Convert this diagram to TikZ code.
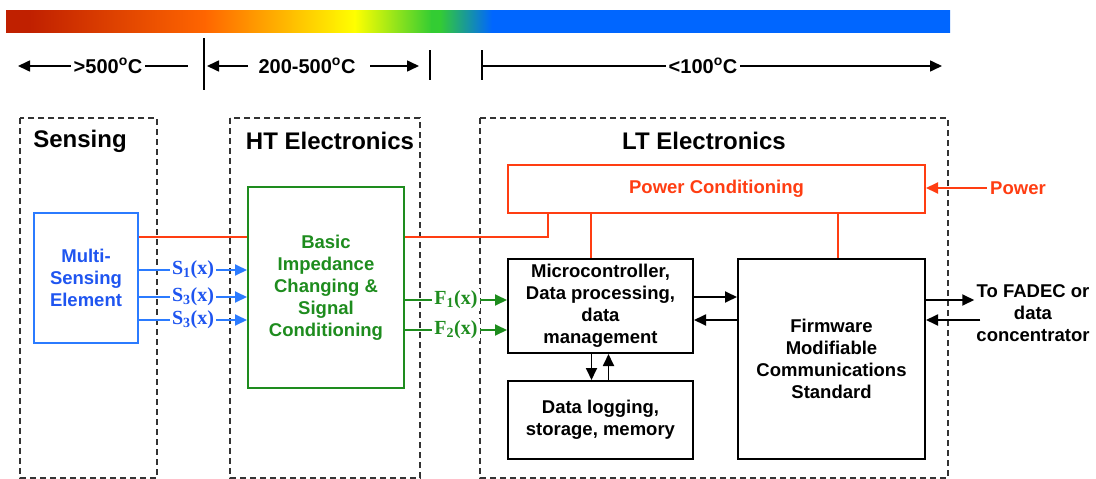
\documentclass[tikz,border=0pt]{standalone}
\usepackage{fontspec}
\setmainfont{Liberation Sans}
\newfontfamily\sigserif{Liberation Serif}
\usetikzlibrary{arrows.meta}

\definecolor{barred}{HTML}{C02000}
\definecolor{barorange}{HTML}{FF6600}
\definecolor{baryellow}{HTML}{FFFF00}
\definecolor{bargreen}{HTML}{33CC33}
\definecolor{barblue}{HTML}{0066FF}
\definecolor{pwred}{HTML}{FF3D12}
\definecolor{sensblue}{HTML}{2B7BFF}
\definecolor{senstext}{HTML}{1F55F0}
\definecolor{htgreen}{HTML}{1E8C1E}

\newcommand\boxfont{\fontsize{18.5}{22}\selectfont\bfseries}
\newcommand\titlefont{\fontsize{24}{28}\selectfont\bfseries}
\newcommand\tempfont{\fontsize{20}{22}\selectfont\bfseries}
\newcommand\sigfont{\fontsize{20}{22}\selectfont\sigserif\bfseries}

\begin{document}
\begin{tikzpicture}[x=1pt,y=-1pt,
  zone/.style={draw=black!80, dash pattern=on 6pt off 4pt, line width=1.3pt},
  blk/.style={draw, line width=2pt, align=center, font=\boxfont, inner sep=0pt},
  pwrline/.style={draw=pwred, line width=2pt},
  arr/.style={-{Triangle[length=12pt,width=11pt]}},
  lbl/.style={fill=white, inner sep=2pt, font=\sigfont},
  temp/.style={font=\tempfont, inner sep=2pt}]
\useasboundingbox (0,0) rectangle (1096,479);

% temperature bar
\begin{scope}
\clip (6,10) rectangle (950,32);
\foreach \xa/\xb/\ca/\cb in {0/30/barred/barred, 29.5/206/barred/barorange,
  205.5/355/barorange/baryellow, 354.5/432/baryellow/bargreen,
  431.5/440/bargreen/bargreen, 439.5/492/bargreen/barblue}
  \shade[left color=\ca, right color=\cb] (\xa,5) rectangle (\xb,37);
\fill[barblue] (491.5,5) rectangle (960,37);
\end{scope}

% temperature ranges
\begin{scope}[line width=1.6pt]
\coordinate (hotL) at (18,66);
\coordinate (hotR) at (188,66);
\coordinate (midL) at (207,66);
\coordinate (midLs) at (248,66);
\coordinate (midRs) at (370,66);
\coordinate (midR) at (419,66);
\coordinate (coolL) at (482,66);
\coordinate (coolR) at (942,66);
\node[temp] (hot) at (108,66) {>500\textsuperscript{o}C};
\node[temp] (mid) at (307,66) {200-500\textsuperscript{o}C};
\node[temp] (cool) at (703,66) {<100\textsuperscript{o}C};
\draw[arr] (hot.west) -- (hotL);
\draw (hot.east) -- (hotR);
\draw[arr] (midLs) -- (midL);
\draw[arr] (midRs) -- (midR);
\draw (coolL) -- (cool.west);
\draw[arr] (cool.east) -- (coolR);
\draw[line width=1.2pt] (204,38) -- (204,90);
\draw[line width=1.2pt] (430,50) -- (430,80);
\draw[line width=1.2pt] (482,50) -- (482,80);
\end{scope}

% zones
\draw[zone] (20,118) rectangle (157,478);
\draw[zone] (230,118) rectangle (420,478);
\draw[zone] (480,118) rectangle (948,478);
\node[font=\titlefont] (tsens) at (80,141) {Sensing};
\node[font=\titlefont] (tht) at (330,141) {HT Electronics};
\node[font=\titlefont] (tlt) at (704,141) {LT Electronics};

% blocks
\node[blk, draw=sensblue, text=senstext, minimum width=104pt, minimum height=130pt] (mse) at (86,278) {Multi-\\Sensing\\Element};
\node[blk, draw=htgreen, text=htgreen, minimum width=156pt, minimum height=201pt] (basic) at (326,287.5) {Basic\\Impedance\\Changing \&\\Signal\\Conditioning};
\node[blk, draw=pwred, text=pwred, minimum width=417pt, minimum height=48pt] (pc) at (716.5,189) {Power Conditioning};
\node[blk, minimum width=185pt, minimum height=94pt] (mc) at (600.5,306) {Microcontroller,\\Data processing,\\data\\management};
\node[blk, minimum width=185pt, minimum height=78pt] (dl) at (600.5,420) {Data logging,\\storage, memory};
\node[blk, minimum width=187pt, minimum height=200pt] (fw) at (831.5,359) {Firmware\\Modifiable\\Communications\\Standard};
\node[font=\boxfont, text=pwred] (pw) at (1018,188) {Power};
\node[font=\boxfont, align=center, inner sep=2pt] (fadec) at (1033,313) {To FADEC or\\data\\concentrator};

% power lines
\coordinate (rail) at (0,237);
\draw[pwrline] (mse.east |- rail) -- (basic.west |- rail);
\draw[pwrline] (basic.east |- rail) -| ([xshift=41pt]pc.south west);
\draw[pwrline] ([xshift=-10pt]mc.north) -- ([xshift=-10pt]mc.north |- pc.south);
\draw[pwrline] ([xshift=6pt]fw.north) -- ([xshift=6pt]fw.north |- pc.south);
\draw[pwrline, arr] (pw.west) -- (pc.east |- pw.west);

% signals
\coordinate (s1) at (0,270);
\coordinate (s2) at (0,297);
\coordinate (s3) at (0,320);
\coordinate (f1) at (0,300);
\coordinate (f2) at (0,330);
\begin{scope}[line width=2pt]
\draw[sensblue, arr] (mse.east |- s1) -- node[lbl, text=senstext] {S\textsubscript{1}(x)} (basic.west |- s1);
\draw[sensblue, arr] (mse.east |- s2) -- node[lbl, text=senstext] {S\textsubscript{3}(x)} (basic.west |- s2);
\draw[sensblue, arr] (mse.east |- s3) -- node[lbl, text=senstext] {S\textsubscript{3}(x)} (basic.west |- s3);
\draw[htgreen, arr] (basic.east |- f1) -- node[lbl, text=htgreen] {F\textsubscript{1}(x)} (mc.west |- f1);
\draw[htgreen, arr] (basic.east |- f2) -- node[lbl, text=htgreen] {F\textsubscript{2}(x)} (mc.west |- f2);
\end{scope}

% data paths
\coordinate (d1) at (0,297);
\coordinate (d2) at (0,320);
\begin{scope}[line width=1.8pt]
\draw[arr] (mc.east |- d1) -- (fw.west |- d1);
\draw[arr] (fw.west |- d2) -- (mc.east |- d2);
\draw[arr] ([xshift=-9pt]mc.south) -- ([xshift=-9pt]dl.north);
\draw[arr] ([xshift=8pt]dl.north) -- ([xshift=8pt]mc.south);
\draw[arr] (fw.east |- f1) -- (fadec.west |- f1);
\draw[arr] ([xshift=6pt]fadec.west |- d2) -- (fw.east |- d2);
\end{scope}
\end{tikzpicture}
\end{document}
